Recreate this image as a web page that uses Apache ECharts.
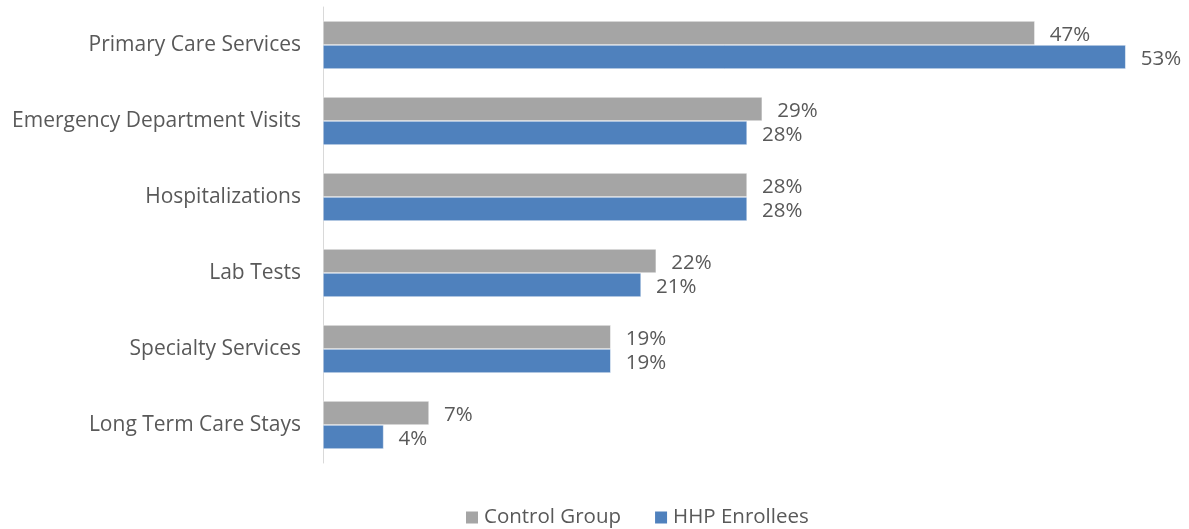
<!DOCTYPE html>
<html><head><meta charset="utf-8">
<script src="https://cdn.jsdelivr.net/npm/echarts@6/dist/echarts.min.js"></script>
<style>html,body{margin:0;padding:0;background:#fff}#c{width:1189px;height:529px}</style>
</head><body><div id="c"></div>
<script>
const categories = ["Primary Care Services","Emergency Department Visits","Hospitalizations","Lab Tests","Specialty Services","Long Term Care Stays"];
const controlGroup = [47,29,28,22,19,7];
const hhpEnrollees = [53,28,28,21,19,4];
const seriesNames = ["Control Group","HHP Enrollees"];

const FONT = "'Open Sans', 'Liberation Sans', sans-serif";
const TXT = '#595959';
const chart = echarts.init(document.getElementById('c'));
const lbl = {show:true, position:'right', distance:15, offset:[0,2], formatter:'{c}%', color:TXT, fontSize:20.5, fontFamily:FONT};
chart.setOption({
  animation:false,
  grid:{left:323, top:7, bottom:66, width:833, containLabel:false},
  legend:{top:502, left:459, itemWidth:14, itemHeight:14, itemGap:32, icon:'rect',
    textStyle:{color:TXT, fontSize:20.5, fontFamily:FONT}, data:seriesNames},
  xAxis:{type:'value', min:0, max:55, show:false},
  yAxis:{type:'category', data:categories, inverse:true,
    axisLine:{show:true, lineStyle:{color:'#d9d9d9', width:1}},
    axisTick:{show:false},
    axisLabel:{color:TXT, fontSize:21, fontFamily:FONT, margin:22, padding:[4,0,0,0]}},
  series:[
    {name:seriesNames[0], type:'bar', data:controlGroup, barGap:'0%', barCategoryGap:'37%',
     itemStyle:{color:'#a5a5a5', borderColor:'#ffffff', borderWidth:0.5}, label:lbl},
    {name:seriesNames[1], type:'bar', data:hhpEnrollees, barGap:'0%', barCategoryGap:'37%',
     itemStyle:{color:'#4f81bd', borderColor:'#ffffff', borderWidth:0.5}, label:lbl}
  ]
});
</script></body></html>
